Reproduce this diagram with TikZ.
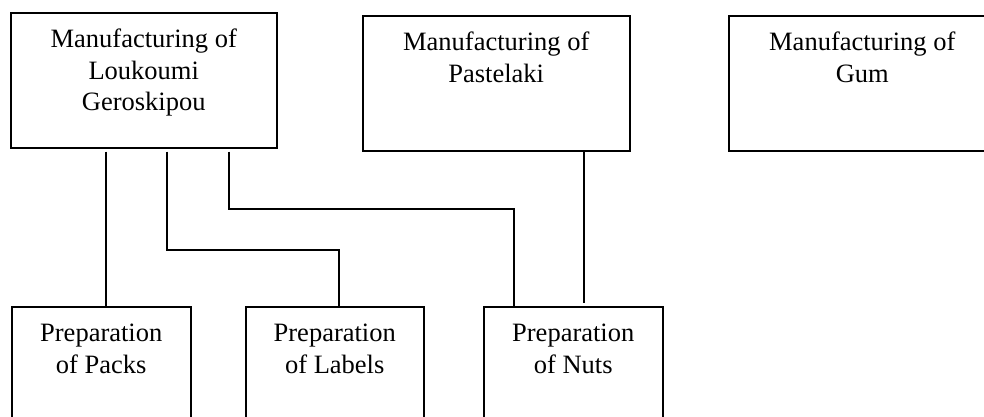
\documentclass[tikz,border=0pt]{standalone}
\usepackage{fontspec}
\setmainfont{Liberation Serif}
\usetikzlibrary{calc}
\usetikzlibrary{positioning}

\begin{document}
\begin{tikzpicture}[x=1pt,y=-1pt]
\tikzstyle{unit}=[draw,line width=1.5pt,align=center,anchor=north west,minimum height=135pt,inner sep=0pt,font=\fontsize{26.5}{31.5}\selectfont]
\tikzstyle{twolines}=[unit,text height=31.5pt,text depth=33.5pt]
\tikzstyle{threelines}=[unit,text height=63pt,text depth=2pt]
\tikzstyle{link}=[line width=1.2pt]

\useasboundingbox (0,0) rectangle (984,416);
\clip (0,0) rectangle (984,416);

\node[threelines,minimum width=266pt] (loukoumi) at (10,12) {Manufacturing of\\Loukoumi\\Geroskipou};
\node[twolines,minimum width=267pt] (pastelaki) at (362,15) {Manufacturing of\\Pastelaki};
\node[twolines,minimum width=267pt] (gum) at (728,15) {Manufacturing of\\Gum};

\node[twolines,minimum width=179pt] (packs) at (11,306) {Preparation\\of Packs};
\node[twolines,minimum width=178pt] (labels) at (245,306) {Preparation\\of Labels};
\node[twolines,minimum width=179pt] (nuts) at (483,306) {Preparation\\of Nuts};

\coordinate (a1) at ($(loukoumi.south west)+(96,0)$);
\coordinate (a2) at ($(loukoumi.south west)+(157,0)$);
\coordinate (a3) at ($(loukoumi.south west)+(219,0)$);
\coordinate (b1) at ($(pastelaki.south west)+(222,0)$);
\coordinate (l1) at ($(labels.north west)+(94,0)$);
\coordinate (n1) at ($(nuts.north west)+(31,0)$);

\draw[link,shorten <=3pt] (a1) -- (a1 |- packs.north);
\draw[link,shorten <=3pt] (a2) |- ($(l1)+(0,-56)$) -- (l1);
\draw[link,shorten <=3pt] (a3) |- ($(n1)+(0,-97)$) -- (n1);
\draw[link,shorten >=3pt] (b1) -- (b1 |- nuts.north);
\end{tikzpicture}
\end{document}
